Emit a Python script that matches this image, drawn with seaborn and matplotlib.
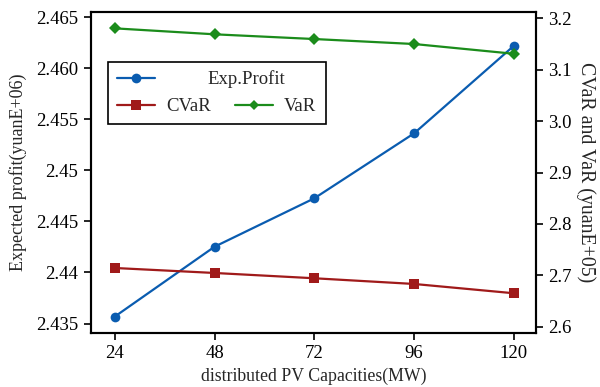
import matplotlib
matplotlib.use("Agg")
import matplotlib.pyplot as plt
from matplotlib.lines import Line2D
from matplotlib.ticker import FixedLocator, FixedFormatter
import seaborn as sns
import pandas as pd

# PV capacity scenarios (MW)
capacities = [24, 48, 72, 96, 120]
# expected profit, yuan x 1e6
exp_profit = [2.43568, 2.44252, 2.44726, 2.45362, 2.46219]
# risk measures, yuan x 1e5
cvar = [2.7142, 2.7045, 2.6942, 2.6831, 2.6650]
var = [3.1805, 3.1689, 3.1597, 3.1500, 3.1310]

left_ticks = [2.435, 2.44, 2.445, 2.45, 2.455, 2.460, 2.465]
left_labels = ["2.435", "2.44", "2.445", "2.45", "2.455", "2.460", "2.465"]
right_ticks = [2.6, 2.7, 2.8, 2.9, 3.0, 3.1, 3.2]
right_labels = ["2.6", "2.7", "2.8", "2.9", "3.0", "3.1", "3.2"]

C_BLUE = "#0a5cb0"
C_RED = "#a01a1a"
C_GREEN = "#1b8c1b"

sns.set_style("ticks")
plt.rcParams["font.family"] = ["Liberation Serif", "DejaVu Serif"]
FS = 13.5

df = pd.DataFrame({"cap": capacities, "profit": exp_profit, "cvar": cvar, "var": var})

fig = plt.figure(figsize=(6.0, 3.87), dpi=100)
ax = fig.add_axes([91 / 600, 1 - 333 / 387, 445 / 600, 321 / 387])
ax2 = ax.twinx()

sns.lineplot(data=df, x="cap", y="profit", ax=ax, color=C_BLUE, marker="o",
             markersize=7, markeredgewidth=0, linewidth=1.6, legend=False)
sns.lineplot(data=df, x="cap", y="cvar", ax=ax2, color=C_RED, marker="s",
             markersize=6.5, markeredgewidth=0, linewidth=1.6, legend=False)
sns.lineplot(data=df, x="cap", y="var", ax=ax2, color=C_GREEN, marker="D",
             markersize=6, markeredgewidth=0, linewidth=1.6, legend=False)

ax.set_xlim(18.3, 125.3)
ax.set_ylim(2.43408, 2.46549)
ax2.set_ylim(2.5877, 3.2123)

ax.set_xticks(capacities)
ax.set_xticklabels([str(c) for c in capacities])
ax.yaxis.set_major_locator(FixedLocator(left_ticks))
ax.yaxis.set_major_formatter(FixedFormatter(left_labels))
ax2.yaxis.set_major_locator(FixedLocator(right_ticks))
ax2.yaxis.set_major_formatter(FixedFormatter(right_labels))

for a in (ax, ax2):
    a.tick_params(axis="both", direction="out", length=5, width=1.2,
                  labelsize=FS, colors="black", pad=4)
    for s in a.spines.values():
        s.set_visible(True)
        s.set_linewidth(1.5)
        s.set_color("black")
    a.grid(False)

ax.set_xlabel("distributed PV Capacities(MW)", fontsize=12.8, labelpad=4)
ax.set_ylabel("Expected profit(yuanE+06)", fontsize=13, labelpad=7)
ax2.set_ylabel("CVaR and VaR (yuanE+05)", fontsize=14.3, rotation=270, labelpad=17)

h_exp = Line2D([], [], color=C_BLUE, marker="o", markersize=7, markeredgewidth=0, linewidth=1.6)
h_cvar = Line2D([], [], color=C_RED, marker="s", markersize=6.5, markeredgewidth=0, linewidth=1.6)
h_var = Line2D([], [], color=C_GREEN, marker="D", markersize=5.5, markeredgewidth=0, linewidth=1.6)
h_blank = Line2D([], [], linestyle="none", marker="none")

# two-column legend; the Exp.Profit caption sits centred across the first row
leg = ax2.legend([h_exp, h_cvar, h_blank, h_var], ["", "CVaR", "", "VaR"],
                 ncol=2, loc="upper left", bbox_to_anchor=(0.038, 0.844),
                 borderaxespad=0, fontsize=FS, frameon=True, fancybox=False,
                 edgecolor="black", framealpha=1, handlelength=2.0,
                 handletextpad=0.6, columnspacing=1.3, labelspacing=0.5,
                 borderpad=0.5)
leg.get_frame().set_linewidth(1.2)
ax2.text((207 - 91) / 445, (333 - 79) / 321, "Exp.Profit", transform=ax2.transAxes,
         fontsize=FS, ha="left", va="center", zorder=10)

fig.savefig("out.png", dpi=100)
